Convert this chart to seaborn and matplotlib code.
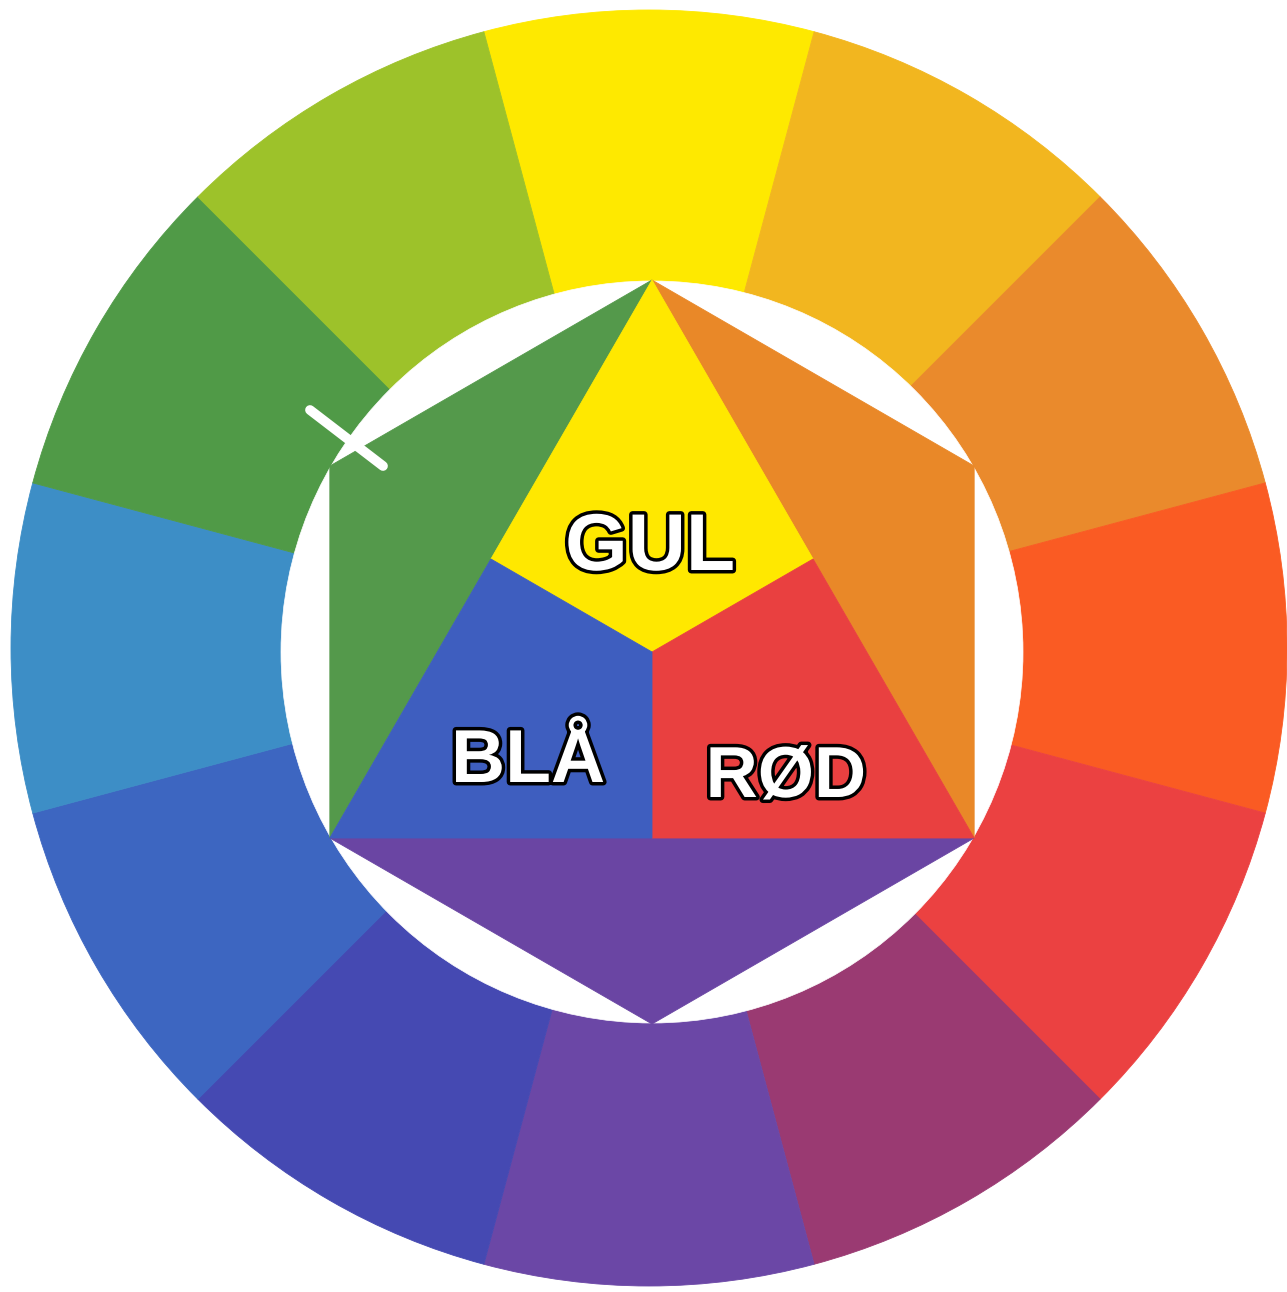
import numpy as np
import matplotlib
matplotlib.use("Agg")
import matplotlib.pyplot as plt
import matplotlib.patheffects as pe
from matplotlib.patches import Polygon, Circle
import seaborn as sns

# ---- data ----
ring_names = ["gul", "gul-orange", "orange", "rød-orange", "rød", "rød-violet",
              "violet", "blå-violet", "blå", "blå-grøn", "grøn", "gul-grøn"]
ring_values = [1] * 12
ring_colors = ["#FEE900", "#F2B61F", "#EA8A2C", "#FA5B23", "#EB4141", "#9A3A72",
               "#6B47A6", "#4549B2", "#3D66C1", "#3D8EC6", "#509A47", "#9DC22A"]

primary_names = ["GUL", "RØD", "BLÅ"]
primary_colors = ["#FFE800", "#E94040", "#3E5EBF"]
secondary_names = ["orange", "violet", "grøn"]
secondary_colors = ["#E98828", "#6A45A3", "#54994B"]

sns.set_theme(style="white")
plt.rcParams['font.family'] = ['Liberation Sans', 'DejaVu Sans']

W, H = 1287, 1292
fig = plt.figure(figsize=(W / 100, H / 100), dpi=100)
ax = fig.add_axes([0, 0, 1, 1])
fig.patch.set_facecolor("white")

# layout (pixel units, y up)
ring_c = (649, H - 648)
R_out = 638
hex_c = np.array([652.0, H - 652.0])
R_in = 371
R_hex = 372

wedges, _ = ax.pie(ring_values, colors=sns.color_palette(ring_colors), startangle=105,
                   counterclock=False, radius=R_out, center=ring_c,
                   wedgeprops=dict(linewidth=0.6))
for w in wedges:
    w.set_edgecolor(w.get_facecolor())

ax.add_patch(Circle(hex_c, R_in, facecolor="white", edgecolor="white", lw=0.5))

def vert(deg):
    a = np.deg2rad(deg)
    return hex_c + R_hex * np.array([np.cos(a), np.sin(a)])

top, ur, lr, bot, ll, ul = (vert(d) for d in (90, 30, -30, -90, -150, 150))
C = hex_c
m_left, m_right, m_bot = (top + ll) / 2, (top + lr) / 2, (ll + lr) / 2

secondary_shapes = [[top, ur, lr], [ll, lr, bot], [top, ul, ll]]
for pts, col in zip(secondary_shapes, secondary_colors):
    ax.add_patch(Polygon(pts, closed=True, facecolor=col, edgecolor=col, lw=0.6))

primary_shapes = [[top, m_right, C, m_left], [C, m_right, lr, m_bot], [C, m_bot, ll, m_left]]
for pts, col in zip(primary_shapes, primary_colors):
    ax.add_patch(Polygon(pts, closed=True, facecolor=col, edgecolor=col, lw=0.6))

# scratch mark on the scan
ax.plot([310, 383], [H - 410, H - 466], color="white", lw=7, solid_capstyle="round")

label_pos = {"GUL": (650, H - 570), "RØD": (786, H - 797), "BLÅ": (528, H - 782)}
label_size = {"GUL": 58, "RØD": 52, "BLÅ": 54}
for name in primary_names:
    x, y = label_pos[name]
    ax.text(x, y, name, ha="center", va="baseline", fontsize=label_size[name],
            fontweight="bold", color="white",
            path_effects=[pe.withStroke(linewidth=5, foreground="black")])

ax.set_xlim(0, W)
ax.set_ylim(0, H)
ax.set_aspect("equal")
ax.axis("off")
fig.savefig("out.png", dpi=100, facecolor="white")
